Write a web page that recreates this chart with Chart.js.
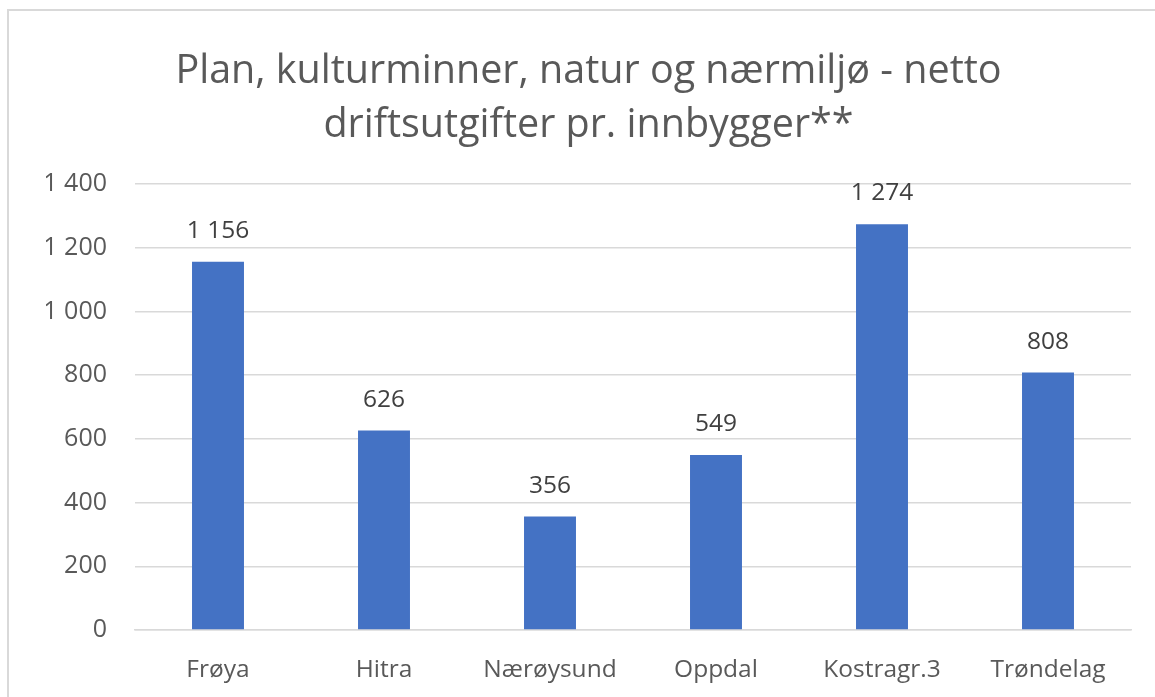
<!DOCTYPE html>
<html>
<head>
<meta charset="utf-8">
<script src="https://cdn.jsdelivr.net/npm/chart.js@4"></script>
<style>
  html, body { margin: 0; padding: 0; background: #fff; }
  #wrap { position: absolute; left: 0; top: 0; width: 1155px; height: 697px; }
</style>
</head>
<body>
<div id="wrap"><canvas id="chart" width="1155" height="697"></canvas></div>
<script>
// Chart data
const categories = ['Frøya', 'Hitra', 'Nærøysund', 'Oppdal', 'Kostragr.3', 'Trøndelag'];
const values = [1156, 626, 356, 549, 1274, 808];
const titleLines = ['Plan, kulturminner, natur og nærmiljø - netto', 'driftsutgifter pr. innbygger**'];

const FONT = "'Open Sans', 'Noto Sans', sans-serif";

// Norwegian style thousands separator: "1 400"
const fmt = v => String(v).replace(/\B(?=(\d{3})+(?!\d))/g, ' ');

// Outer frame (left + top edge only visible in the reference)
const framePlugin = {
    id: 'frame',
    beforeDraw: function (chart) {
        const ctx = chart.ctx;
        ctx.save();
        ctx.fillStyle = '#ffffff';
        ctx.fillRect(0, 0, chart.width, chart.height);
        ctx.strokeStyle = '#d9d9d9';
        ctx.lineWidth = 2;
        ctx.beginPath();
        ctx.moveTo(8, chart.height);
        ctx.lineTo(8, 10);
        ctx.lineTo(chart.width, 10);
        ctx.stroke();
        ctx.restore();
    }
};

// Value labels above each bar
const valueLabels = {
    id: 'valueLabels',
    afterDatasetsDraw: function (chart) {
        const ctx = chart.ctx;
        const meta = chart.getDatasetMeta(0);
        ctx.save();
        ctx.font = '24.5px ' + FONT;
        ctx.fillStyle = '#404040';
        ctx.textAlign = 'center';
        ctx.textBaseline = 'middle';
        meta.data.forEach((bar, i) => {
            ctx.fillText(fmt(values[i]), bar.x, bar.y - 31);
        });
        ctx.restore();
    }
};

new Chart(document.getElementById('chart'), {
    type: 'bar',
    data: {
        labels: categories,
        datasets: [{
            data: values,
            backgroundColor: '#4472c4',
            borderWidth: 0,
            categoryPercentage: 1,
            barPercentage: 0.313
        }]
    },
    options: {
        responsive: false,
        animation: false,
        layout: { padding: { left: 46, right: 24, top: 0, bottom: 0 } },
        plugins: {
            legend: { display: false },
            tooltip: { enabled: false },
            title: {
                display: true,
                text: titleLines,
                color: '#595959',
                font: { family: FONT, size: 39.5, weight: 'normal', lineHeight: '54px' },
                padding: { top: 45, bottom: 31 }
            }
        },
        scales: {
            x: {
                grid: { display: false, drawTicks: false },
                border: { color: '#d9d9d9', width: 1.5 },
                ticks: {
                    color: '#595959',
                    font: { family: FONT, size: 24.5 },
                    padding: 25,
                    maxRotation: 0,
                    autoSkip: false
                },
                afterFit: s => { s.height = 67; }
            },
            y: {
                min: 0,
                max: 1400,
                grid: { color: '#d9d9d9', lineWidth: 1.5, drawTicks: false },
                border: { display: false },
                ticks: {
                    stepSize: 200,
                    color: '#595959',
                    font: { family: FONT, size: 25 },
                    padding: 28,
                    callback: v => fmt(v)
                },
                afterFit: s => { s.width = 89; }
            }
        }
    },
    plugins: [framePlugin, valueLabels]
});
</script>
</body>
</html>
